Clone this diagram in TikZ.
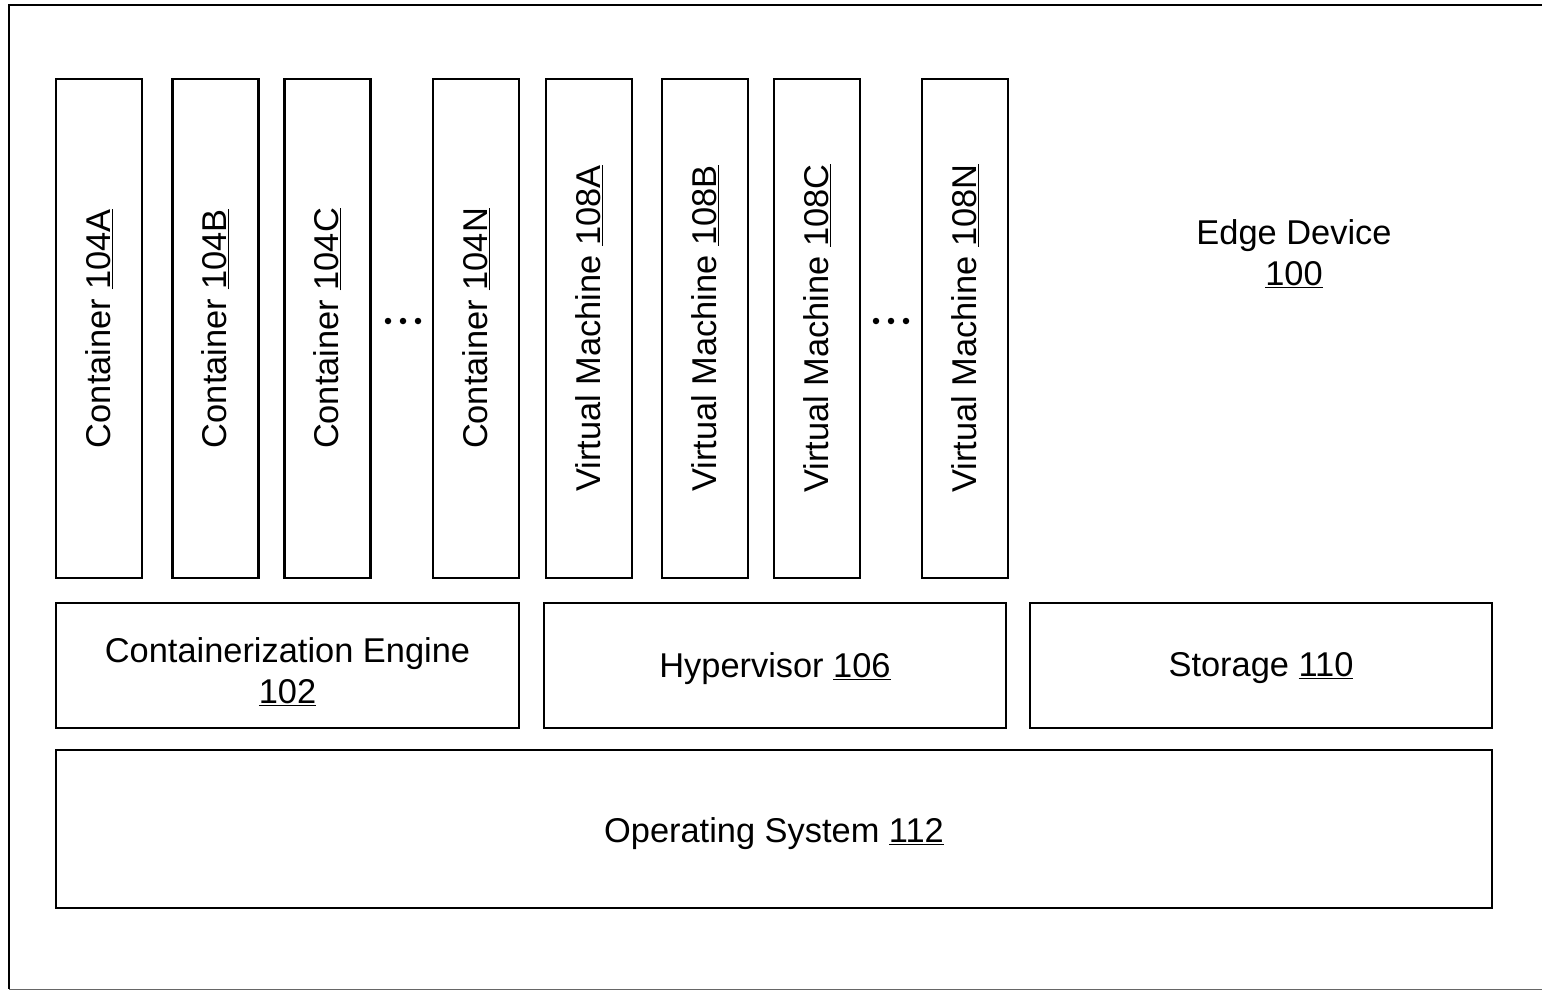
\documentclass[tikz,border=0pt]{standalone}
\usepackage{fontspec}
\setmainfont{Liberation Sans}
\newcommand{\refnum}[1]{\underline{#1}}
\tikzset{
  every node/.style={font=\fontsize{34.4}{41}\selectfont},
  blk/.style={draw, line width=2.2pt, rectangle, inner sep=0pt, align=center},
  colbox/.style={blk, rotate=90, minimum width=499pt, minimum height=86pt},
  gap dots/.style={fill, circle, inner sep=0pt, minimum size=6.5pt},
  caption/.style={align=center, inner sep=0pt},
}
\begin{document}
\begin{tikzpicture}[x=1pt, y=-1pt]
  \clip (0,0) rectangle (1542,991);
  \fill[white] (0,0) rectangle (1542,991);
  % outer device frame (runs off the right edge)
  \draw[line width=2pt] (1600,5) -- (9,5) -- (9,989);
  \draw[line width=1pt, black!60] (9,989) -- (1600,989);

  % containers
  \node[colbox] (c104a) at (99,328.5) {Container \refnum{104A}};
  \node[colbox] (c104b) at (215.5,328.5) {Container \refnum{104B}};
  \node[colbox] (c104c) at (327.5,328.5) {Container \refnum{104C}};
  \node[gap dots] (cdot1) at (388,321) {};
  \node[gap dots] (cdot2) at (403,321) {};
  \node[gap dots] (cdot3) at (418,321) {};
  \node[colbox] (c104n) at (476,328.5) {Container \refnum{104N}};

  % virtual machines
  \node[colbox] (vm108a) at (589,328.5) {Virtual Machine \refnum{108A}};
  \node[colbox] (vm108b) at (705,328.5) {Virtual Machine \refnum{108B}};
  \node[colbox] (vm108c) at (817,328.5) {Virtual Machine \refnum{108C}};
  \node[gap dots] (vmdot1) at (876,321) {};
  \node[gap dots] (vmdot2) at (891,321) {};
  \node[gap dots] (vmdot3) at (906,321) {};
  \node[colbox] (vm108n) at (965,328.5) {Virtual Machine \refnum{108N}};

  \node[caption] (edge) at (1294,254) {Edge Device\\\refnum{100}};

  % middle layer
  \node[blk, minimum width=463pt, minimum height=125pt] (engine) at (287.5,665.5) {};
  \node[caption] (engine-txt) at ([yshift=-6pt]engine.center)
    {Containerization Engine\\\refnum{102}};
  \node[blk, minimum width=462pt, minimum height=125pt] (hyper) at (775,665.5) {};
  \node[caption] (hyper-txt) at ([yshift=-3pt]hyper.center) {Hypervisor \refnum{106}};
  \node[blk, minimum width=462pt, minimum height=125pt] (storage) at (1261,665.5) {};
  \node[caption] (storage-txt) at ([yshift=-3pt]storage.center) {Storage \refnum{110}};

  % bottom layer
  \node[blk, minimum width=1436pt, minimum height=158pt] (os) at (774,829) {};
  \node[caption] (os-txt) at ([yshift=-5pt]os.center) {Operating System \refnum{112}};
\end{tikzpicture}
\end{document}
